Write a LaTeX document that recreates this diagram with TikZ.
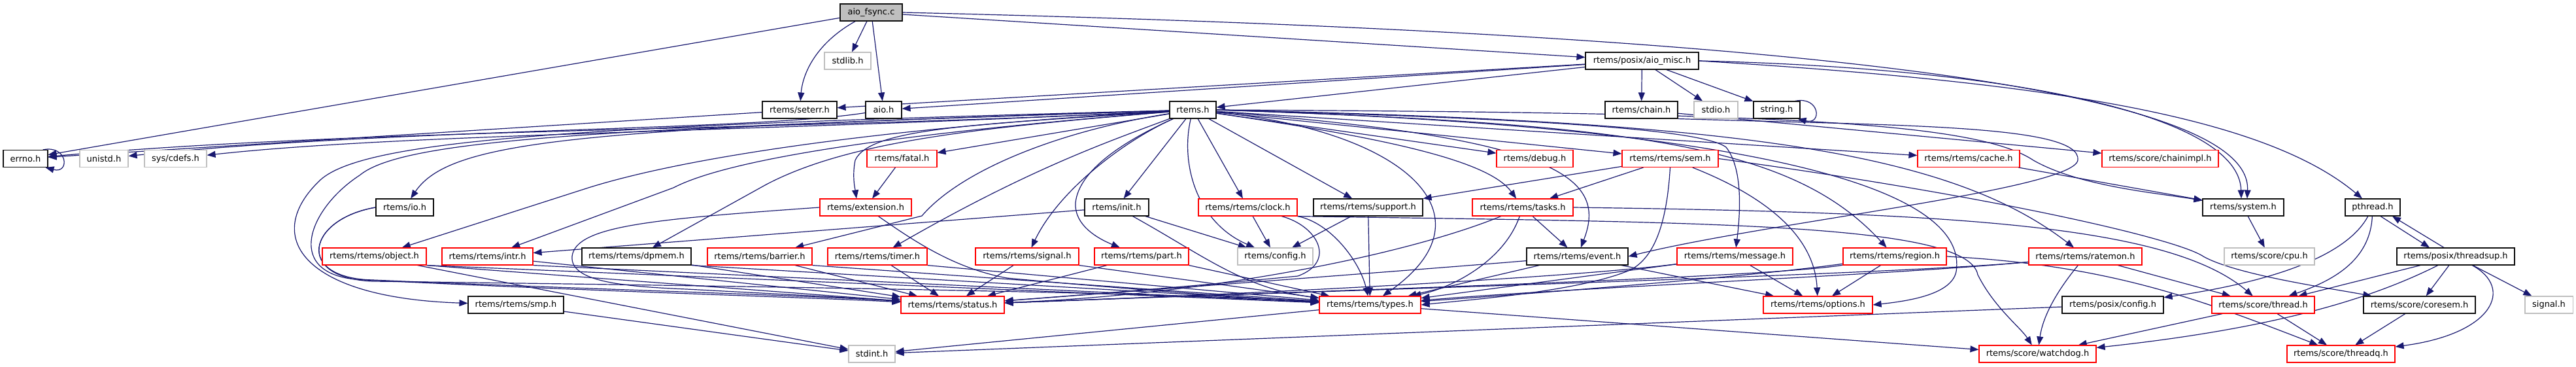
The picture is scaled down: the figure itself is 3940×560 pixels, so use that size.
\documentclass[tikz,border=0pt]{standalone}
\usepackage{fontspec}
\setmainfont{DejaVu Sans}
\usetikzlibrary{arrows.meta,backgrounds}
\definecolor{eblue}{HTML}{191970}
\definecolor{gline}{HTML}{BFBFBF}
\definecolor{rline}{HTML}{FF0000}
\definecolor{bline}{HTML}{101010}
\tikzset{
  nb/.style={draw=bline, line width=1.1pt, fill=white, minimum height=26pt, inner sep=0pt, font=\fontsize{13}{16}\selectfont},
  nr/.style={nb, draw=rline},
  ng/.style={nb, draw=gline},
  nf/.style={nb, fill=gline},
  e/.style={draw=eblue, line width=1.2pt, -{Triangle[length=13pt,width=10pt]}},
}
\begin{document}
\begin{tikzpicture}[x=1pt,y=-1pt]
\useasboundingbox (0,0) rectangle (3940,560);
% row 0
\node[nf, minimum width=95pt] (F) at (1332.5,19) {aio\_fsync.c};
% row 1
\node[ng, minimum width=71pt] (stdlib) at (1296.5,93) {stdlib.h};
\node[nb, minimum width=173pt] (M) at (2511.5,93) {rtems/posix/aio\_misc.h};
% row 2
\node[nb, minimum width=114pt] (seterr) at (1223,168) {rtems/seterr.h};
\node[nb, minimum width=55pt] (aio) at (1351.5,168) {aio.h};
\node[nb, minimum width=71pt] (R) at (1824.5,168) {rtems.h};
\node[nb, minimum width=111pt] (chain) at (2510.5,168) {rtems/chain.h};
\node[ng, minimum width=67pt] (stdio) at (2624.5,168) {stdio.h};
\node[nb, minimum width=71pt] (string) at (2717.5,168) {string.h};
% row 3
\node[nb, minimum width=68pt] (errno) at (39,242.5) {errno.h};
\node[ng, minimum width=74pt] (unistd) at (159,242.5) {unistd.h};
\node[ng, minimum width=95pt] (cdefs) at (268.5,242.5) {sys/cdefs.h};
\node[nr, minimum width=107pt] (fatal) at (1379.5,242.5) {rtems/fatal.h};
\node[nr, minimum width=117pt] (debug) at (2347.5,242.5) {rtems/debug.h};
\node[nr, minimum width=147pt] (sem) at (2554.5,242.5) {rtems/rtems/sem.h};
\node[nr, minimum width=156pt] (cache) at (3011,242.5) {rtems/rtems/cache.h};
\node[nr, minimum width=178pt] (chainimpl) at (3304,242.5) {rtems/score/chainimpl.h};
% row 4
\node[nb, minimum width=88pt] (io) at (619,317) {rtems/io.h};
\node[nr, minimum width=140pt] (extension) at (1324,317) {rtems/extension.h};
\node[nb, minimum width=98pt] (init) at (1708,317) {rtems/init.h};
\node[nr, minimum width=151pt] (clock) at (1908.5,317) {rtems/rtems/clock.h};
\node[nb, minimum width=167pt] (support) at (2092.5,317) {rtems/rtems/support.h};
\node[nr, minimum width=154pt] (tasks) at (2329,317) {rtems/rtems/tasks.h};
\node[nb, minimum width=124pt] (system) at (3431,317) {rtems/system.h};
\node[nb, minimum width=84pt] (pthread) at (3629,317) {pthread.h};
% row 5
\node[nr, minimum width=159pt] (object) at (572.5,392) {rtems/rtems/object.h};
\node[nr, minimum width=139pt] (intr) at (745.5,392) {rtems/rtems/intr.h};
\node[nb, minimum width=167pt] (dpmem) at (973.5,392) {rtems/rtems/dpmem.h};
\node[nr, minimum width=160pt] (barrier) at (1162,392) {rtems/rtems/barrier.h};
\node[nr, minimum width=152pt] (timer) at (1342,392) {rtems/rtems/timer.h};
\node[nr, minimum width=158pt] (signal) at (1571,392) {rtems/rtems/signal.h};
\node[nr, minimum width=144pt] (part) at (1746,392) {rtems/rtems/part.h};
\node[ng, minimum width=115pt] (config) at (1950.5,392) {rtems/config.h};
\node[nb, minimum width=155pt] (event) at (2412.5,392) {rtems/rtems/event.h};
\node[nr, minimum width=177pt] (message) at (2653.5,392) {rtems/rtems/message.h};
\node[nr, minimum width=158pt] (region) at (2898,392) {rtems/rtems/region.h};
\node[nr, minimum width=173pt] (ratemon) at (3189.5,392) {rtems/rtems/ratemon.h};
\node[ng, minimum width=138pt] (cpu) at (3471,392) {rtems/score/cpu.h};
\node[nb, minimum width=180pt] (threadsup) at (3756,392) {rtems/posix/threadsup.h};
% row 6
\node[nb, minimum width=146pt] (smp) at (789,466) {rtems/rtems/smp.h};
\node[nr, minimum width=158pt] (status) at (1457,466) {rtems/rtems/status.h};
\node[nr, minimum width=155pt] (types) at (2095.5,466) {rtems/rtems/types.h};
\node[nr, minimum width=167pt] (options) at (2780.5,466) {rtems/rtems/options.h};
\node[nb, minimum width=155pt] (pconfig) at (3231.5,466) {rtems/posix/config.h};
\node[nr, minimum width=157pt] (thread) at (3461.5,466) {rtems/score/thread.h};
\node[nb, minimum width=171pt] (coresem) at (3700.5,466) {rtems/score/coresem.h};
\node[ng, minimum width=73pt] (signalh) at (3898.5,466) {signal.h};
% row 7
\node[ng, minimum width=71pt] (stdint) at (1333.5,541) {stdint.h};
\node[nr, minimum width=179pt] (watchdog) at (3116.5,541) {rtems/score/watchdog.h};
\node[nr, minimum width=165pt] (threadq) at (3580.5,541) {rtems/score/threadq.h};

\begin{pgfonlayer}{background}
\fill[white] (0,0) rectangle (3940,560);
% top level
\draw[e] (F) -- (errno);
\draw[e] (F) .. controls (1250,65) and (1228,110) .. (seterr);
\draw[e] (F) -- (stdlib);
\draw[e] (F) -- (aio);
\draw[e] (F) -- (M);
\draw[e] (F.east) .. controls (2700,50) and (3445,130) .. ([xshift=6pt]system.north);
\draw[e] (M) -- (seterr);
\draw[e] (M) -- (aio);
\draw[e] (M) -- (R);
\draw[e] (M) -- (chain);
\draw[e] (M) -- (stdio);
\draw[e] (M) -- (string);
\draw[e] (M.east) .. controls (3100,105) and (3425,180) .. ([xshift=-3pt]system.north);
\draw[e] (M.east) .. controls (3120,125) and (3460,175) .. (pthread);
\draw[e] (seterr) -- (errno);
\draw[e] ([xshift=-8pt]errno.north east) .. controls +(38,-8) and +(38,10) .. ([xshift=-4pt]errno.south east);
\draw[e] ([xshift=-8pt]string.north east) .. controls +(38,-8) and +(38,10) .. ([xshift=-4pt]string.south east);
\draw[e] (aio) .. controls (1150,200) and (600,196) .. (unistd);
\draw[e] (R) .. controls (1200,200) and (560,196) .. (errno);
\draw[e] (R) .. controls (1150,202) and (620,204) .. (cdefs);
\draw[e] (chain) -- (chainimpl);
\draw[e] (chain.south east) .. controls (2900,192) and (3185,190) .. (3178,245) .. controls (3170,290) and (2700,340) .. (event.east);
% rtems.h fan
\draw[e] (R) .. controls (900,192) and (560,212) .. (490,275) .. controls (400,360) and (460,455) .. (smp);
\draw[e] (R) .. controls (950,197) and (620,210) .. (550,268) .. controls (470,320) and (430,425) .. (560,428) .. controls (900,445) and (1250,455) .. (status);
\draw[e] (R) .. controls (900,197) and (690,212) .. (io);
\draw[e] (R) .. controls (1350,195) and (1050,240) .. (900,287) -- (object);
\draw[e] (R) .. controls (1450,198) and (1130,235) .. (1030,287) -- (intr);
\draw[e] (R) .. controls (1500,195) and (1300,215) .. (1172,282) -- (dpmem);
\draw[e] (R) .. controls (1620,200) and (1470,260) .. (1410,330) -- (barrier);
\draw[e] (R) .. controls (1700,215) and (1580,255) .. (timer);
\draw[e] (R) .. controls (1500,190) and (1330,195) .. (1308,245) .. controls (1303,270) and (1308,290) .. ([xshift=-14pt]extension.north);
\draw[e] (R) -- (fatal);
\draw[e] (R) .. controls (1720,215) and (1620,290) .. (signal);
\draw[e] (R) .. controls (1720,215) and (1650,260) .. (1645,310) .. controls (1643,345) and (1680,365) .. (part);
\draw[e] (R) -- (init);
\draw[e] (R) .. controls (1805,250) and (1830,340) .. (config);
\draw[e] (R) -- (clock);
\draw[e] (R) -- (support);
\draw[e] (R) .. controls (2150,200) and (2290,330) .. (types);
\draw[e] (R) .. controls (2150,215) and (2280,250) .. (tasks);
\draw[e] (R) .. controls (2380,210) and (2460,270) .. (event);
\draw[e] (R) -- (debug);
\draw[e] (R) -- (sem);
\draw[e] (R.east) .. controls (2300,180) and (2600,195) .. (2640,225) .. controls (2660,250) and (2665,300) .. (message);
\draw[e] (R.east) .. controls (2500,190) and (2740,220) .. (region);
\draw[e] (R.east) .. controls (2750,195) and (3010,300) .. (2992,415) .. controls (2985,450) and (2920,460) .. (options.east);
\draw[e] (R) -- (cache);
\draw[e] (R.east) .. controls (2650,185) and (2980,230) .. (ratemon);
\draw[e] (R.east) .. controls (2700,172) and (3020,185) .. (3110,245) .. controls (3180,285) and (3300,295) .. (system);
\draw[e] (cache) -- (system);
% second level
\draw[e] (io.west) .. controls (470,335) and (450,425) .. (570,428) .. controls (900,442) and (1250,452) .. (status);
\draw[e] (io.west) .. controls (470,335) and (450,425) .. (570,430) .. controls (1200,438) and (1800,448) .. (types);
\draw[e] (object.south east) -- (status);
\draw[e] (object.south east) -- (types);
\draw[e] ([xshift=-14pt]object.south east) -- (stdint);
\draw[e] (smp) -- (stdint);
\draw[e] (intr) -- (status);
\draw[e] (intr.south east) -- (types);
\draw[e] (dpmem) -- (status);
\draw[e] (dpmem.south east) -- (types);
\draw[e] (barrier) -- (status);
\draw[e] (barrier.south east) -- (types);
\draw[e] (timer) -- (status);
\draw[e] (timer.south east) -- (types);
\draw[e] (signal) -- (status);
\draw[e] (signal.south east) -- (types);
\draw[e] (part) -- (status);
\draw[e] (part.south east) -- (types);
\draw[e] (init) -- (intr);
\draw[e] (init) -- (config);
\draw[e] (init) .. controls (1840,390) and (1900,440) .. (types);
\draw[e] (clock) -- (config);
\draw[e] (clock) .. controls (2015,345) and (2045,400) .. (1985,422) .. controls (1800,440) and (1600,455) .. (status);
\draw[e] (clock.south east) .. controls (2035,340) and (2080,400) .. (types);
\draw[e] (clock.south east) .. controls (2600,340) and (3010,340) .. (3025,420) .. controls (3050,470) and (3090,500) .. (watchdog);
\draw[e] (support) -- (config);
\draw[e] (support) -- (types);
\draw[e] (extension.west) .. controls (1000,335) and (880,345) .. (875,392) .. controls (872,430) and (950,438) .. (1050,442) .. controls (1200,450) and (1320,456) .. (status);
\draw[e] (extension) .. controls (1400,370) and (1460,410) .. (1540,425) .. controls (1700,440) and (1900,455) .. (types);
\draw[e] (fatal) -- (extension);
\draw[e] (tasks) .. controls (2150,390) and (1850,450) .. (status);
\draw[e] (tasks) .. controls (2300,400) and (2220,440) .. (types);
\draw[e] (tasks) -- (event);
\draw[e] (tasks.east) .. controls (3000,325) and (3320,345) .. (thread);
\draw[e] (event) .. controls (2200,410) and (1800,440) .. (status);
\draw[e] (event) -- (types);
\draw[e] (event) -- (options);
\draw[e] (message) .. controls (2400,425) and (1900,450) .. (status);
\draw[e] (message) -- (types);
\draw[e] (message) -- (options);
\draw[e] (region) .. controls (2700,425) and (2000,445) .. (status);
\draw[e] (region) .. controls (2700,420) and (2400,445) .. (types);
\draw[e] (region) -- (options);
\draw[e] (region.east) .. controls (3230,405) and (3370,460) .. (threadq);
\draw[e] (ratemon) .. controls (2900,420) and (2000,445) .. (status);
\draw[e] (ratemon) .. controls (2900,420) and (2400,440) .. (types);
\draw[e] (ratemon) .. controls (3150,440) and (3125,480) .. (watchdog);
\draw[e] (ratemon) -- (thread);
\draw[e] (sem) -- (support);
\draw[e] (sem) -- (tasks);
\draw[e] (sem.south) .. controls (2550,330) and (2535,390) .. (2495,412) .. controls (2420,445) and (2250,458) .. (types.east);
\draw[e] (sem) .. controls (2700,300) and (2775,360) .. (options);
\draw[e] (sem.east) .. controls (3050,300) and (3330,365) .. (3370,392) .. controls (3420,420) and (3560,440) .. (coresem);
\draw[e] (types) -- (stdint);
\draw[e] (types) -- (watchdog);
\draw[e] (system) -- (cpu);
\draw[e] ([xshift=12pt]pthread.south) -- ([xshift=-40pt]threadsup.north);
\draw[e] ([xshift=-18pt]threadsup.north) -- ([xshift=30pt]pthread.south);
\draw[e] (pthread) .. controls (3590,390) and (3480,430) .. (pconfig);
\draw[e] (pthread) .. controls (3625,400) and (3565,430) .. (thread);
\draw[e] (threadsup) -- (thread);
\draw[e] (threadsup) .. controls (3640,450) and (3500,500) .. (watchdog);
\draw[e] (threadsup) -- (coresem);
\draw[e] (threadsup) .. controls (3845,440) and (3815,510) .. (threadq);
\draw[e] (threadsup) -- (signalh);
\draw[e] (thread) -- (watchdog);
\draw[e] (thread) -- (threadq);
\draw[e] (coresem) -- (threadq);
\draw[e] (pconfig) -- (stdint);
\end{pgfonlayer}
\end{tikzpicture}
\end{document}
